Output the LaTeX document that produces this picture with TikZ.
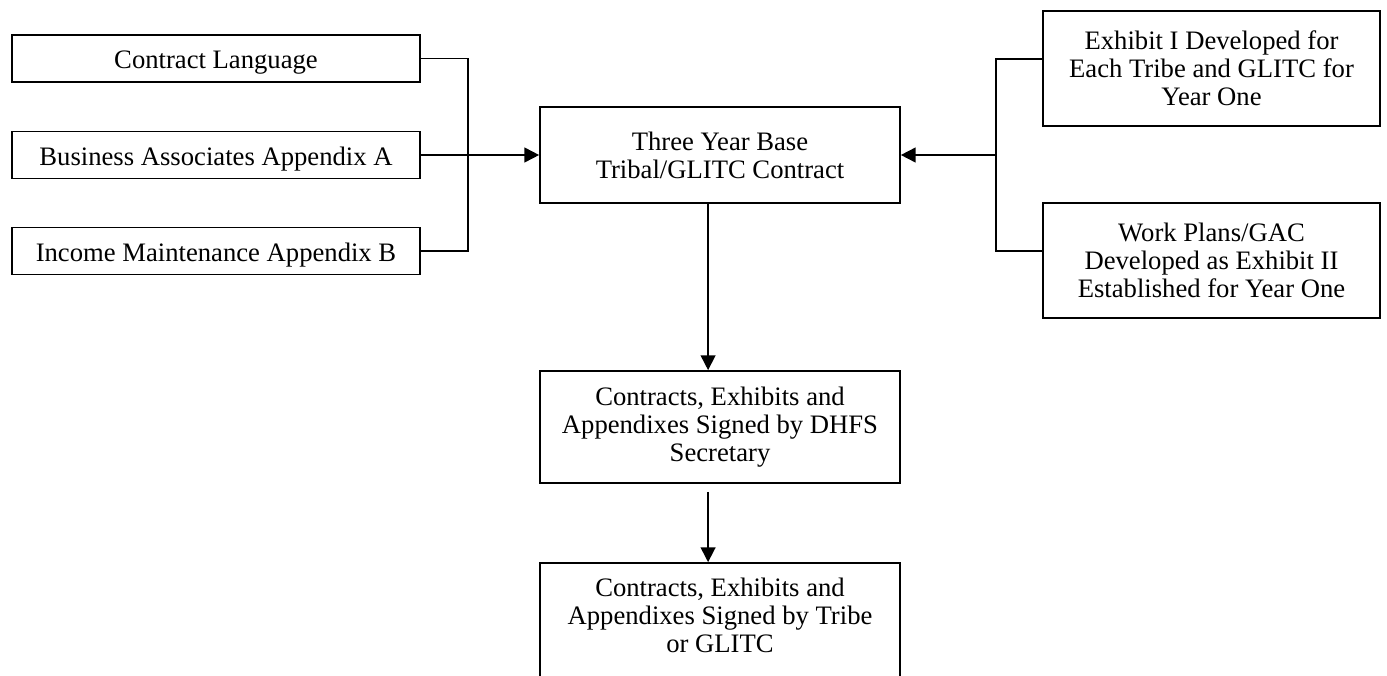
\documentclass[tikz,border=0pt]{standalone}
\usepackage{fontspec}
\setmainfont{Liberation Serif}
\usetikzlibrary{arrows.meta,positioning}
\tikzset{
  box/.style={draw,line width=0.8pt,align=center,inner sep=0pt,
    font=\fontsize{12.3}{13}\selectfont},
  sidebox/.style={box,minimum width=188.3pt,minimum height=21.7pt,text height=12pt,text depth=2.6pt},
  midbox/.style={box,minimum width=166.1pt},
  exbox/.style={box,minimum width=155.5pt,minimum height=53.1pt},
  link/.style={line width=0.8pt},
  arr/.style={link,-{Triangle[length=6.8pt,width=6.8pt]}}
}
\begin{document}
\begin{tikzpicture}[x=0.4615pt,y=-0.4615pt]
    \useasboundingbox (0,0) rectangle (1387,675);
    % left column
    \foreach \n/\y/\t in {lang/58.5/Contract Language,assoc/155/Business Associates Appendix A,income/251/Income Maintenance Appendix B}
      \node[sidebox] (\n) at (216,\y) {\t};
    % middle column
    \node[midbox,minimum height=44.3pt] (base) at (720,155) {Three Year Base\\Tribal/GLITC Contract};
    \node[midbox,minimum height=51.7pt] (secy) at (720,427) {Contracts, Exhibits and\\Appendixes Signed by DHFS\\Secretary};
    \node[midbox,minimum height=52.6pt] (tribe) at (720,620) {Contracts, Exhibits and\\Appendixes Signed by Tribe\\or GLITC\\[-8.4pt]\mbox{}};
    % right column
    \node[exbox] (exh) at (1211.5,68.5) {Exhibit I Developed for\\Each Tribe and GLITC for\\Year One};
    \node[exbox] (work) at (1211.5,260.5) {Work Plans/GAC\\Developed as Exhibit II\\Established for Year One};
    % connectors
    \coordinate (lj) at (468,155);
    \coordinate (rj) at (996,155);
    \draw[link] (lang.east) -| (lj) |- (income.east);
    \draw[arr] (assoc.east) -- (base.west);
    \draw[link] ([yshift=4.4pt]exh.west) -| (rj) |- ([yshift=4.4pt]work.west);
    \draw[arr] (rj) -- (base.east);
    \draw[arr] ([xshift=-5.5pt]base.south) -- ([xshift=-5.5pt]secy.north);
    \draw[arr] ([xshift=-5.5pt,yshift=-3.7pt]secy.south) -- ([xshift=-5.5pt]tribe.north);
\end{tikzpicture}
\end{document}
